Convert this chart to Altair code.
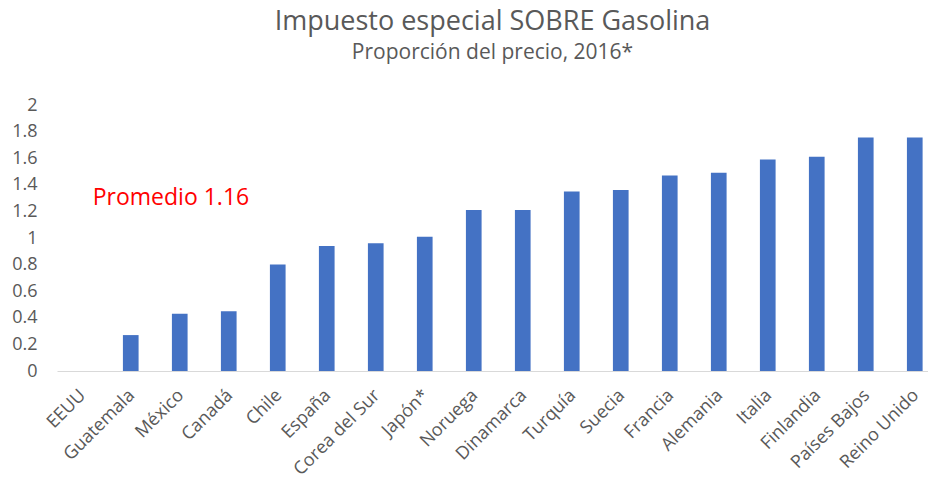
import altair as alt
import pandas as pd

paises = ["EEUU", "Guatemala", "México", "Canadá", "Chile", "España", "Corea del Sur",
          "Japón*", "Noruega", "Dinamarca", "Turquía", "Suecia", "Francia", "Alemania",
          "Italia", "Finlandia", "Países Bajos", "Reino Unido"]
valores = [0, 0.27, 0.43, 0.45, 0.80, 0.94, 0.96, 1.01, 1.21, 1.21, 1.35, 1.36,
           1.47, 1.49, 1.59, 1.61, 1.755, 1.755]
y_ticks = [0, 0.2, 0.4, 0.6, 0.8, 1, 1.2, 1.4, 1.6, 1.8, 2]
anotacion_texto = ["Promedio 1.16"]
anotacion_pais = ["Guatemala"]
anotacion_y = [1.25]

df = pd.DataFrame({"pais": paises, "valor": valores})
ann = pd.DataFrame({"pais": anotacion_pais, "valor": anotacion_y, "label": anotacion_texto})

FONT = "Open Sans"
GREY = "#595959"

xscale = alt.Scale(paddingInner=0.68, paddingOuter=0.2276, align=0.758)
yscale = alt.Scale(domain=[0, 2], nice=False)
xaxis = alt.Axis(title=None, labelAngle=-45, ticks=False, domainColor="#D9D9D9",
                 domainWidth=1, labelFont=FONT, labelFontSize=18,
                 labelColor=GREY, labelPadding=15, labelOffset=-5, labelOverlap=False)
yaxis = alt.Axis(title=None, values=y_ticks, format="~g", grid=False,
                 domain=False, ticks=False, labelFont=FONT, labelFontSize=18,
                 labelColor=GREY, labelPadding=20, labelOverlap=False)

bars = alt.Chart(df).mark_bar(color="#4472C4").encode(
    x=alt.X("pais:N", sort=paises, scale=xscale, axis=xaxis),
    y=alt.Y("valor:Q", scale=yscale, axis=yaxis),
)

text = alt.Chart(ann).mark_text(align="left", baseline="alphabetic", dx=-38,
                                color="#FF0000", fontSize=23, font=FONT).encode(
    x=alt.X("pais:N", sort=paises, scale=xscale, axis=xaxis),
    y=alt.Y("valor:Q", scale=yscale, axis=yaxis),
    text="label:N",
)

chart = alt.layer(bars, text).properties(
    width=871,
    height=266,
    autosize="none",
    padding={"left": 49, "top": 97, "right": 0, "bottom": 104},
    title=alt.TitleParams(
        text="Impuesto especial SOBRE Gasolina",
        subtitle="Proporción del precio, 2016*",
        font=FONT, fontSize=27, fontWeight="normal", color=GREY,
        subtitleFont=FONT, subtitleFontSize=21, subtitleColor=GREY,
        subtitlePadding=6, anchor="middle", offset=32,
    ),
).configure_view(strokeOpacity=0)

chart.save("out.html", embed_options={"renderer": "svg", "actions": False})
